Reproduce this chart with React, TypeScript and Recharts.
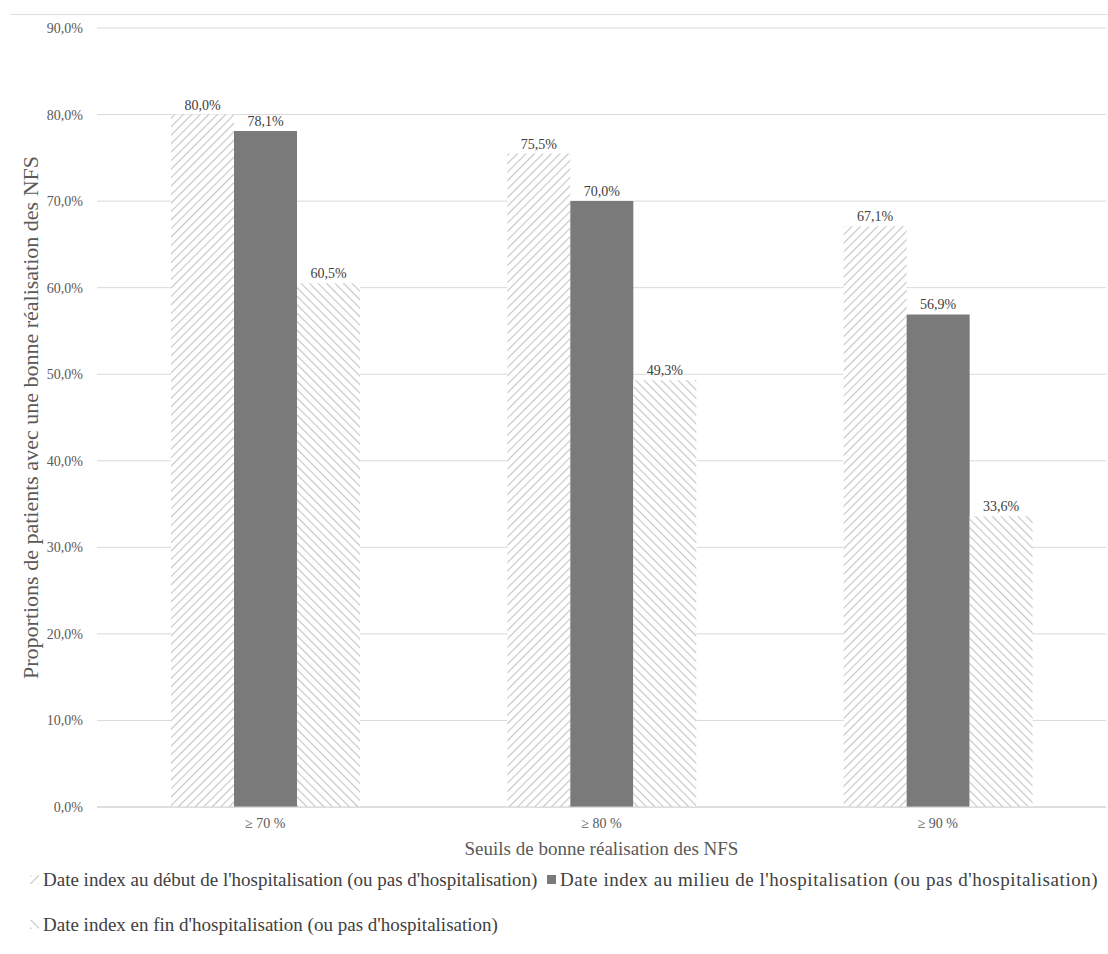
import React from "react";
import {BarChart, Bar, XAxis, YAxis, CartesianGrid, Legend, LabelList} from "recharts";

const categories = ["≥ 70 %", "≥ 80 %", "≥ 90 %"];
const debutValues = [80.0, 75.5, 67.1];
const milieuValues = [78.1, 70.0, 56.9];
const finValues = [60.5, 49.3, 33.6];
const yTicks = [0, 10, 20, 30, 40, 50, 60, 70, 80, 90];

const seriesNames = {
    debut: "Date index au début de l'hospitalisation (ou pas d'hospitalisation)",
    milieu: "Date index au milieu de l'hospitalisation (ou pas d'hospitalisation)",
    fin: "Date index en fin d'hospitalisation (ou pas d'hospitalisation)",
};

const chartData = categories.map((name, i) => ({
    name,
    debut: debutValues[i],
    milieu: milieuValues[i],
    fin: finValues[i],
}));

const fmt = (v: number) => v.toFixed(1).replace(".", ",") + "%";

const FONT = "Liberation Serif";

// patterns live in a hidden svg so the bars can reference them by url
const PatternDefs = () => (
    <svg width={0} height={0} style={{position: "absolute"}}>
        <defs>
            <pattern id="hatchUp" width={6} height={6} patternUnits="userSpaceOnUse" patternTransform="rotate(45)">
                <rect width={6} height={6} fill="#fff" />
                <line x1={0} y1={0} x2={0} y2={6} stroke="#c4c4c4" strokeWidth={2.2} />
            </pattern>
            <pattern id="hatchDown" width={6} height={6} patternUnits="userSpaceOnUse" patternTransform="rotate(-45)">
                <rect width={6} height={6} fill="#fff" />
                <line x1={0} y1={0} x2={0} y2={6} stroke="#c4c4c4" strokeWidth={2.2} />
            </pattern>
        </defs>
    </svg>
);

const LegendItem = ({fill, label, width, spacing = 0}: {fill: string; label: string; width: number; spacing?: number}) => (
    <div style={{display: "flex", alignItems: "center", width, height: 45, whiteSpace: "nowrap"}}>
        <svg width={9} height={9} style={{marginRight: 4}}>
            <rect width={9} height={9} fill={fill} />
        </svg>
        <span style={{letterSpacing: spacing}}>{label}</span>
    </div>
);

const CustomLegend = () => (
    <div style={{fontFamily: FONT, fontSize: 19, color: "#404040", paddingLeft: 30}}>
        <div style={{display: "flex"}}>
            <LegendItem fill="url(#hatchUp)" label={seriesNames.debut} width={518} />
            <LegendItem fill="#7a7a7a" label={seriesNames.milieu} width={560} spacing={0.55} />
        </div>
        <LegendItem fill="url(#hatchDown)" label={seriesNames.fin} width={560} />
    </div>
);

const labelStyle = {fontFamily: FONT, fontSize: 14, fill: "#404040"};

const App = () => {
    return (
        <div style={{position: "absolute", left: 0, top: 0, width: 1108, height: 954, background: "#fff"}}>
            <PatternDefs />
            <div style={{position: "absolute", left: 10, right: 0, top: 14, borderTop: "1px solid #e0e0e0"}} />
            <BarChart
                width={1108}
                height={954}
                data={chartData}
                margin={{top: 28, right: 2, left: 0, bottom: 0}}
                barCategoryGap="22%"
                barGap={0}
            >
                <CartesianGrid vertical={false} stroke="#d9d9d9" />
                <XAxis
                    dataKey="name"
                    height={50}
                    tickLine={false}
                    axisLine={{stroke: "#d0d0d0"}}
                    tickSize={0}
                    tickMargin={11}
                    tick={{fontFamily: FONT, fontSize: 14, fill: "#595959"}}
                    label={{
                        value: "Seuils de bonne réalisation des NFS",
                        position: "insideBottom",
                        offset: 2,
                        style: {fontFamily: FONT, fontSize: 19, fill: "#595959"},
                    }}
                />
                <YAxis
                    width={97}
                    domain={[0, 90]}
                    ticks={yTicks}
                    tickFormatter={fmt}
                    axisLine={false}
                    tickLine={false}
                    tickSize={0}
                    tickMargin={14}
                    tick={{fontFamily: FONT, fontSize: 14, fill: "#595959"}}
                    label={{
                        value: "Proportions de patients  avec une bonne réalisation des NFS",
                        angle: -90,
                        position: "insideLeft",
                        offset: 30,
                        style: {fontFamily: FONT, fontSize: 22, fill: "#595959", textAnchor: "middle", whiteSpace: "pre"},
                    }}
                />
                <Legend verticalAlign="bottom" height={97} content={<CustomLegend />} />
                <Bar dataKey="debut" name={seriesNames.debut} fill="url(#hatchUp)" isAnimationActive={false}>
                    <LabelList dataKey="debut" position="top" offset={5} formatter={fmt} style={labelStyle} />
                </Bar>
                <Bar dataKey="milieu" name={seriesNames.milieu} fill="#7a7a7a" isAnimationActive={false}>
                    <LabelList dataKey="milieu" position="top" offset={5} formatter={fmt} style={labelStyle} />
                </Bar>
                <Bar dataKey="fin" name={seriesNames.fin} fill="url(#hatchDown)" isAnimationActive={false}>
                    <LabelList dataKey="fin" position="top" offset={5} formatter={fmt} style={labelStyle} />
                </Bar>
            </BarChart>
        </div>
    );
};

export default App;
